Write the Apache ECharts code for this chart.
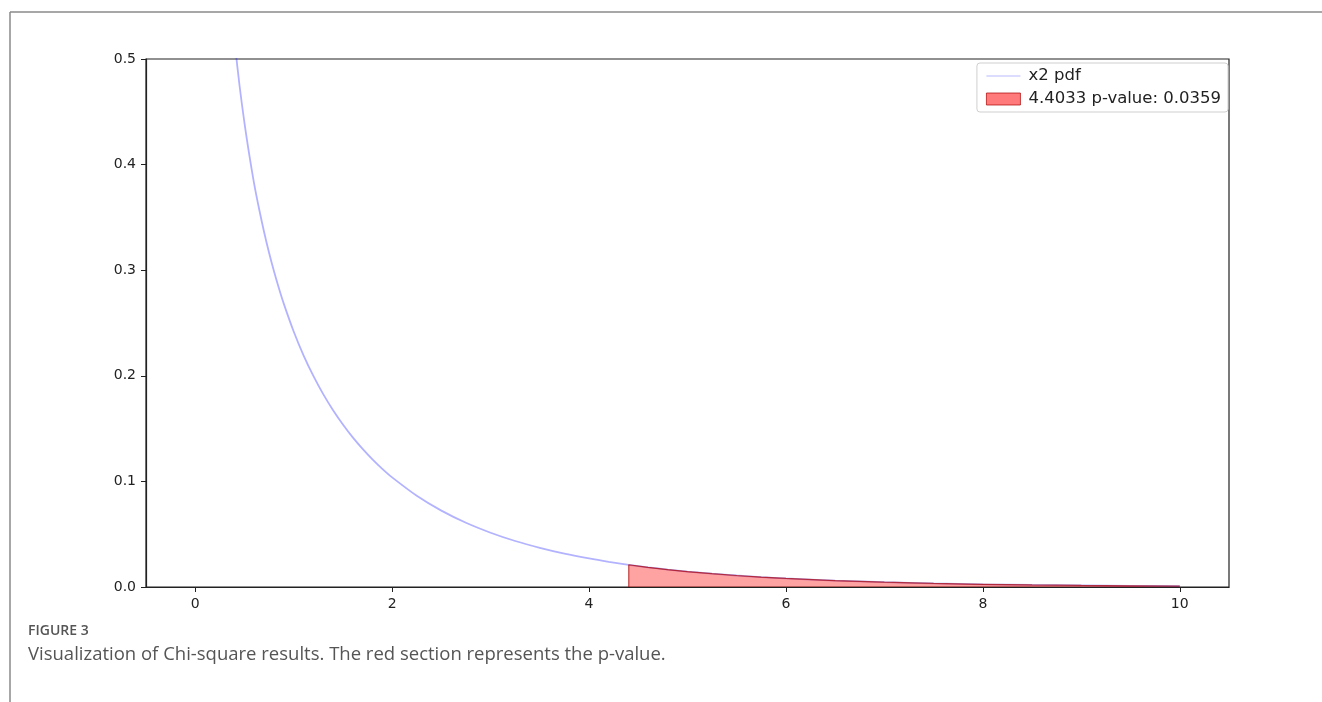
<!DOCTYPE html>
<html>
<head>
<meta charset="utf-8">
<script src="https://cdn.jsdelivr.net/npm/echarts@6/dist/echarts.min.js"></script>
<style>
html,body{margin:0;padding:0;background:#fff;}
#chart{width:1322px;height:702px;}
</style>
</head>
<body>
<div id="chart"></div>
<script>
// Curve (chi-square pdf, x vs density)
const curveX = [0.40, 0.45, 0.50, 0.55, 0.60, 0.65, 0.70, 0.75, 0.80, 0.85, 0.90, 1.00, 1.10, 1.20, 1.30, 1.40, 1.50, 1.60, 1.70, 1.80, 1.90, 2.00, 2.25, 2.50, 2.75, 3.00, 3.25, 3.50, 3.75, 4.00, 4.20, 4.4033, 4.60, 4.80, 5.00, 5.25, 5.50, 5.75, 6.00, 6.50, 7.00, 7.50, 8.00, 8.50, 9.00, 9.50, 10.00];
const curveY = [0.5164, 0.4749, 0.4394, 0.4087, 0.3811, 0.3575, 0.3360, 0.3166, 0.2990, 0.2829, 0.2681, 0.2420, 0.2194, 0.1999, 0.1826, 0.1674, 0.1539, 0.1417, 0.1308, 0.1209, 0.1119, 0.1038, 0.0864, 0.0723, 0.0608, 0.0514, 0.04357, 0.0371, 0.0316, 0.0270, 0.02385, 0.02105, 0.01866, 0.01652, 0.01465, 0.01261, 0.01087, 0.00938, 0.00811, 0.00607, 0.00455, 0.00343, 0.00258, 0.00195, 0.00148, 0.00112, 0.00085];
// Shaded tail (p-value region)
const tailX = [4.4033, 4.4033, 4.60, 4.80, 5.00, 5.25, 5.50, 5.75, 6.00, 6.50, 7.00, 7.50, 8.00, 8.50, 9.00, 9.50, 10.00];
const tailY = [0, 0.02105, 0.01866, 0.01652, 0.01465, 0.01261, 0.01087, 0.00938, 0.00811, 0.00607, 0.00455, 0.00343, 0.00258, 0.00195, 0.00148, 0.00112, 0.00085];
const xTicks = [0, 2, 4, 6, 8, 10];
const yTicks = [0.0, 0.1, 0.2, 0.3, 0.4, 0.5];
const seriesNames = ['x2 pdf', '4.4033 p-value: 0.0359'];
const captionLabel = 'FIGURE 3';
const captionText = 'Visualization of Chi-square results. The red section represents the p-value.';

const curveData = curveX.map((x, i) => [x, curveY[i]]);
const tailData = tailX.map((x, i) => [x, tailY[i]]);

const chart = echarts.init(document.getElementById('chart'), null, {renderer: 'canvas'});
const tickFont = {fontFamily: 'DejaVu Sans', fontSize: 14, color: '#222'};

chart.setOption({
  animation: false,
  backgroundColor: '#fff',
  grid: {left: 146, right: 93, top: 59, bottom: 115, show: true, borderColor: '#222', borderWidth: 1.2, backgroundColor: 'transparent'},
  xAxis: {
    type: 'value', min: -0.5, max: 10.5,
    splitLine: {show: false},
    axisLine: {show: true, onZero: false, lineStyle: {color: '#222', width: 1.2}},
    axisTick: {show: true, length: 5, inside: false, customValues: xTicks, lineStyle: {color: '#222'}},
    axisLabel: {customValues: xTicks, margin: 10, formatter: v => String(v), ...tickFont}
  },
  yAxis: {
    type: 'value', min: 0, max: 0.5, interval: 0.1,
    splitLine: {show: false},
    axisLine: {show: true, onZero: false, lineStyle: {color: '#222', width: 1.2}},
    axisTick: {show: true, length: 5, lineStyle: {color: '#222'}},
    axisLabel: {margin: 10, formatter: v => v.toFixed(1), ...tickFont}
  },
  legend: {
    orient: 'vertical', right: 94, top: 63,
    backgroundColor: '#fff', borderColor: '#cfcfcf', borderWidth: 1, borderRadius: 3,
    padding: [4, 7, 4, 9], itemGap: 5, itemWidth: 34, itemHeight: 12,
    textStyle: {fontFamily: 'DejaVu Sans', fontSize: 16.5, lineHeight: 18, color: '#222', padding: [0, 0, 0, 3]},
    data: [
      {name: seriesNames[0], icon: 'path://M0,5.5 L34,5.5 L34,6.7 L0,6.7 Z', itemStyle: {color: 'rgba(0,0,255,0.28)'}},
      {name: seriesNames[1], icon: 'rect', itemStyle: {color: 'rgba(255,0,0,0.52)', borderColor: 'rgba(170,0,0,0.7)', borderWidth: 1}}
    ]
  },
  series: [
    {
      name: seriesNames[0], type: 'line', data: curveData, showSymbol: false, symbol: 'none',
      smooth: 0.3, clip: true,
      lineStyle: {color: 'rgba(0,0,255,0.3)', width: 1.8},
      itemStyle: {color: 'rgba(0,0,255,0.3)'}, z: 2
    },
    {
      name: seriesNames[1], type: 'line', data: tailData, showSymbol: false, symbol: 'none',
      smooth: false, clip: true,
      lineStyle: {color: 'rgba(170,0,0,0.7)', width: 1.2},
      areaStyle: {color: 'rgba(255,0,0,0.52)', origin: 0},
      itemStyle: {color: 'rgba(255,0,0,0.52)'}, z: 3
    }
  ],
  graphic: [
    {type: 'line', shape: {x1: 10, y1: 12, x2: 1322, y2: 12}, style: {stroke: '#8a8a8a', lineWidth: 1.5}, silent: true},
    {type: 'line', shape: {x1: 10, y1: 12, x2: 10, y2: 702}, style: {stroke: '#8a8a8a', lineWidth: 1.5}, silent: true},
    {type: 'text', left: 28, top: 624, style: {text: captionLabel, fontFamily: 'Open Sans', fontSize: 14, fontWeight: 600, fill: '#555'}},
    {type: 'text', left: 28, top: 645, style: {text: captionText, fontFamily: 'Open Sans', fontSize: 18.5, fill: '#555'}}
  ]
});
</script>
</body>
</html>
